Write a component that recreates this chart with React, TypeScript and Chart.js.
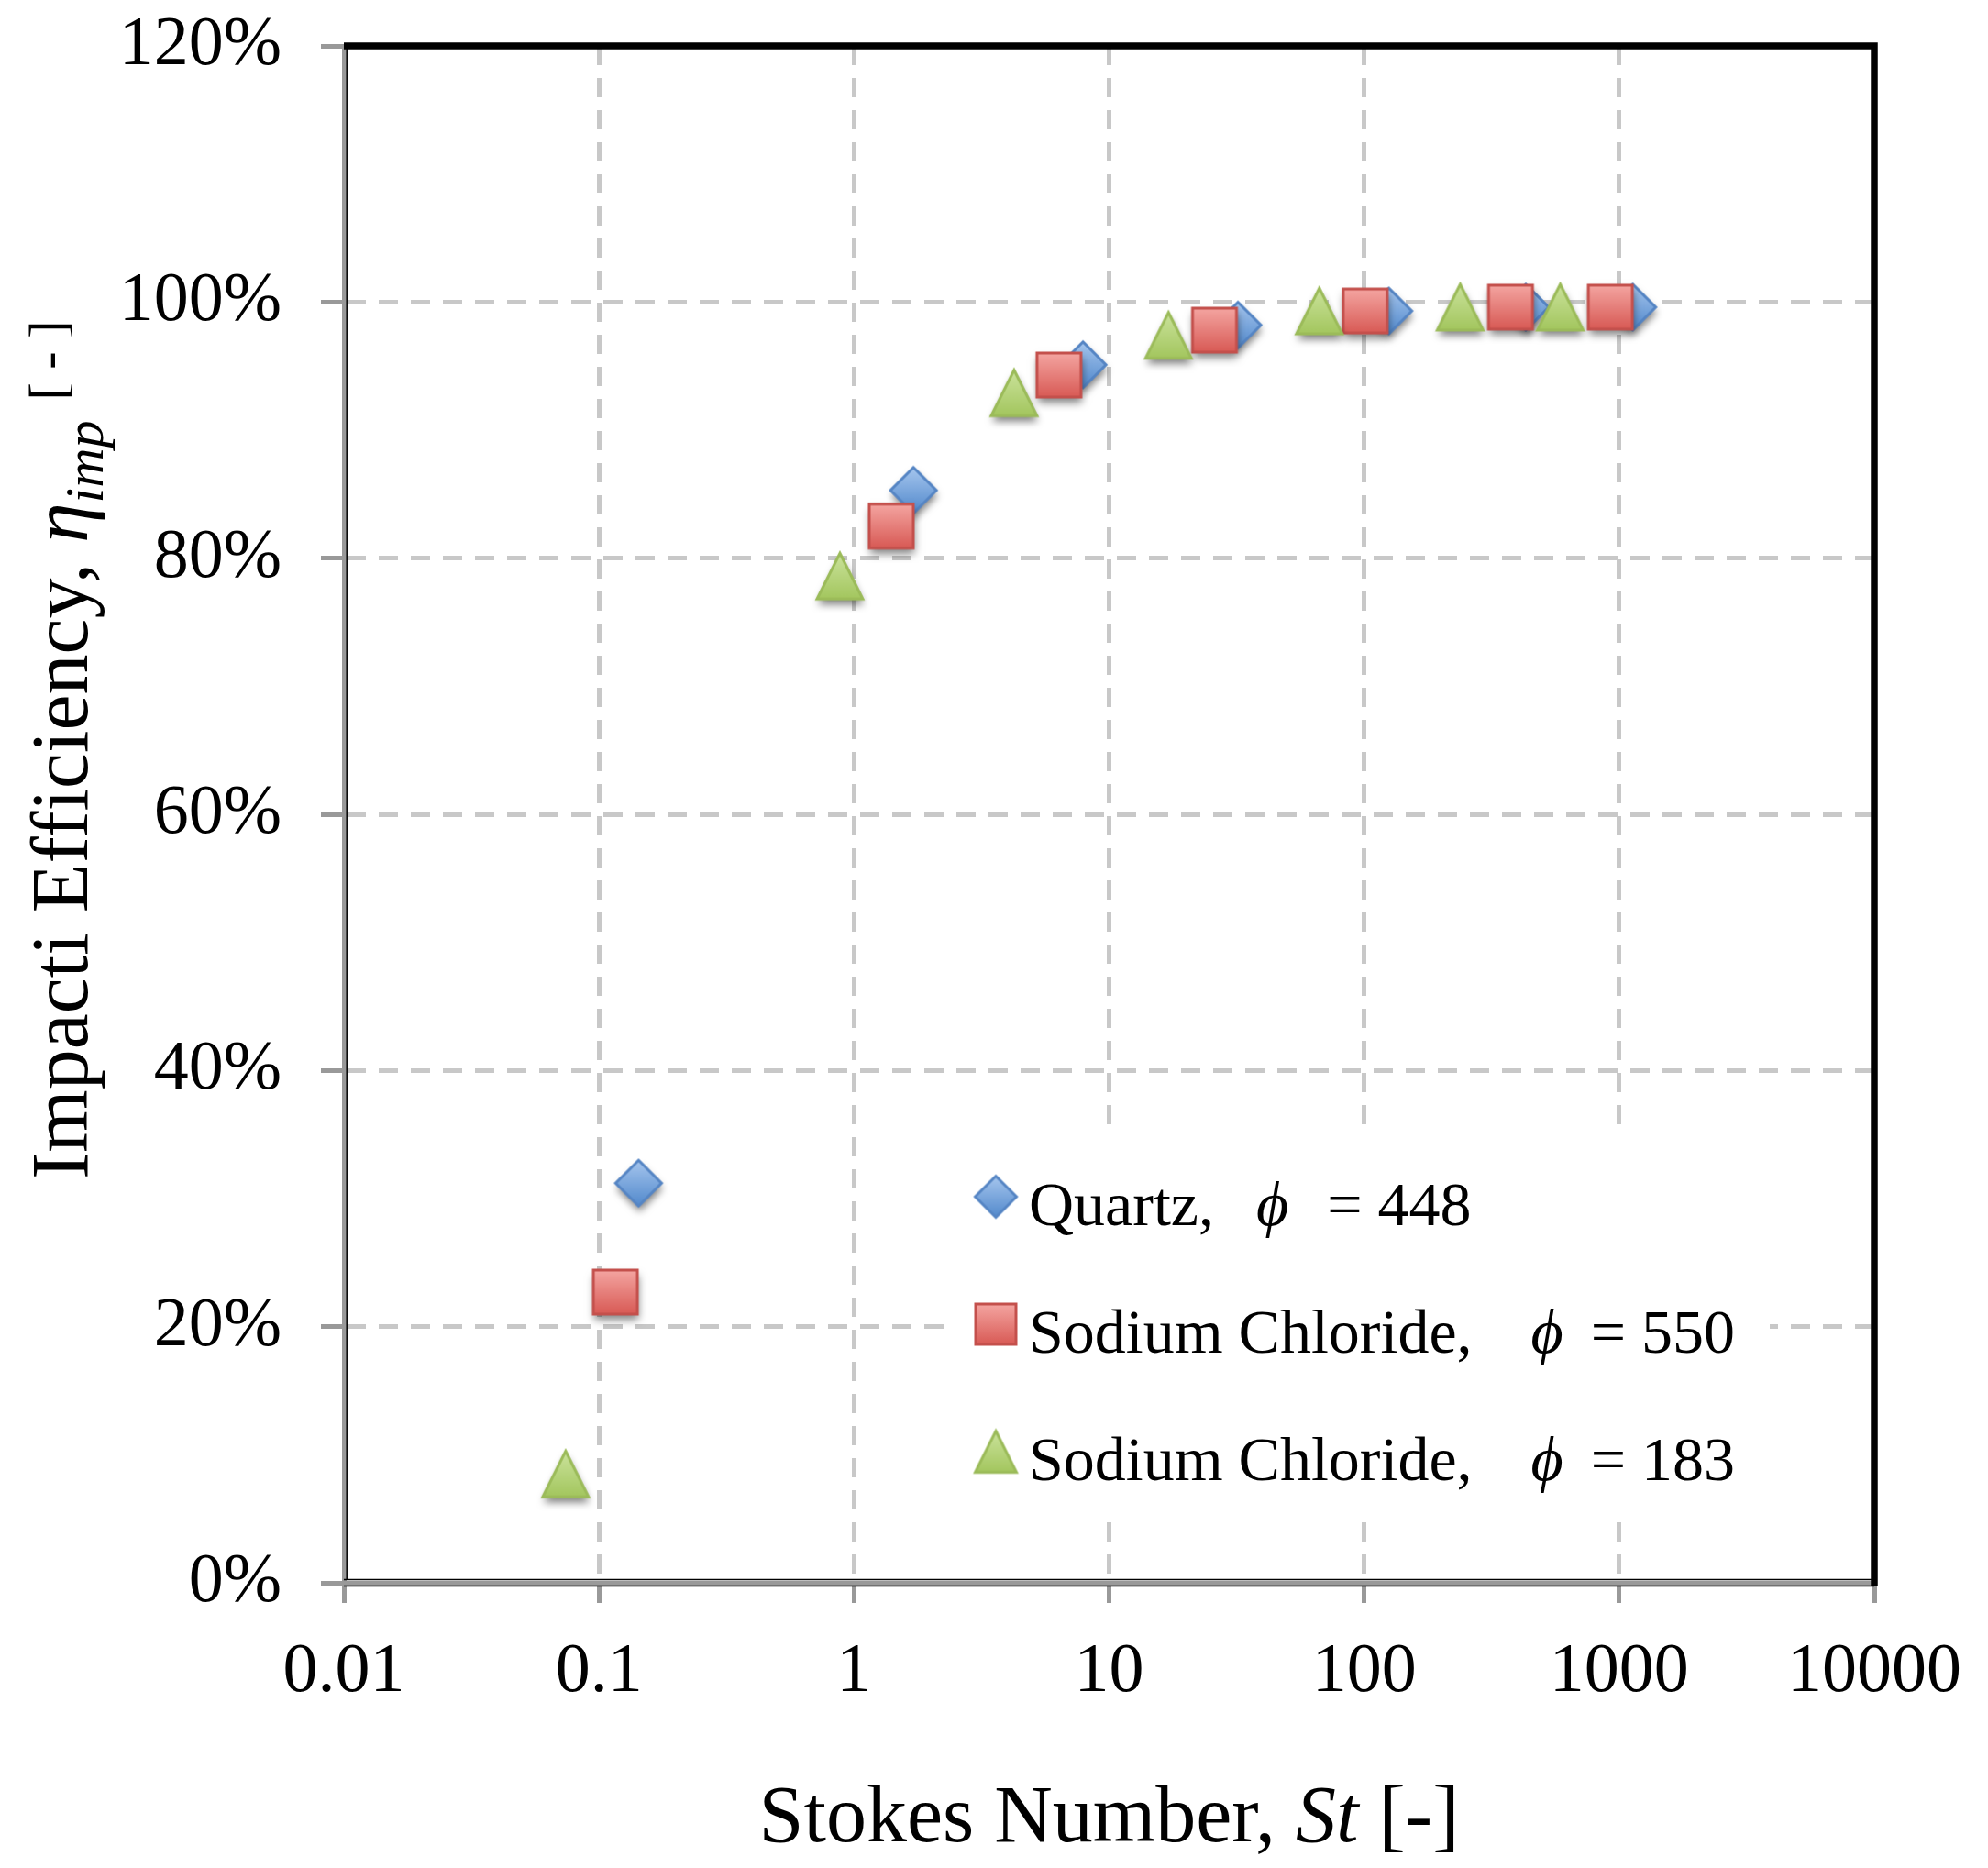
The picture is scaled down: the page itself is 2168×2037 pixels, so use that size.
import React, { useEffect, useRef } from 'react';
import { Chart, registerables } from 'chart.js';

Chart.register(...registerables);

// Stokes number (x) and impaction efficiency in % (y)
const quartzSt = [0.143, 1.71, 7.9, 32, 125, 430, 1130];
const quartzEff = [31.2, 85.3, 95.1, 98.2, 99.3, 99.6, 99.6];
const nacl550St = [0.116, 1.4, 6.36, 25.9, 101, 375, 923];
const nacl550Eff = [22.7, 82.5, 94.3, 97.8, 99.3, 99.6, 99.6];
const nacl183St = [0.074, 0.88, 4.24, 17.1, 66.7, 238, 587];
const nacl183Eff = [8.5, 78.6, 92.9, 97.4, 99.3, 99.6, 99.6];

const xTicks = [0.01, 0.1, 1, 10, 100, 1000, 10000];
const yTicks = [0, 20, 40, 60, 80, 100, 120];

const legendNames = ['Quartz,', 'Sodium Chloride,', 'Sodium Chloride,'];
const legendPhi = ['448', '550', '183'];

const SERIF = '"Liberation Serif", "Times New Roman", Times, serif';

type Shape = 'diamond' | 'square' | 'triangle';

const makeMarker = (shape: Shape, size: number, top: string, bottom: string, stroke: string, shadow = true) => {
  const pad = 16;
  const c = document.createElement('canvas');
  c.width = size + pad * 2;
  c.height = size + pad * 2;
  const ctx = c.getContext('2d')!;
  const cx = c.width / 2;
  const cy = c.height / 2;
  const h = size / 2;
  const path = () => {
    ctx.beginPath();
    if (shape === 'diamond') {
      ctx.moveTo(cx, cy - h);
      ctx.lineTo(cx + h, cy);
      ctx.lineTo(cx, cy + h);
      ctx.lineTo(cx - h, cy);
    } else if (shape === 'square') {
      ctx.rect(cx - h, cy - h, size, size);
    } else {
      ctx.moveTo(cx, cy - h);
      ctx.lineTo(cx + h, cy + h);
      ctx.lineTo(cx - h, cy + h);
    }
    ctx.closePath();
  };
  if (shadow) {
    ctx.save();
    ctx.shadowColor = 'rgba(0,0,0,0.5)';
    ctx.shadowBlur = 9;
    ctx.shadowOffsetY = 6;
    ctx.shadowOffsetX = 1;
    path();
    ctx.fillStyle = bottom;
    ctx.fill();
    ctx.restore();
  }
  const g = ctx.createLinearGradient(0, cy - h, 0, cy + h);
  g.addColorStop(0, top);
  g.addColorStop(1, bottom);
  path();
  ctx.fillStyle = g;
  ctx.fill();
  ctx.lineWidth = 3;
  ctx.lineJoin = 'miter';
  ctx.strokeStyle = stroke;
  ctx.stroke();
  return c;
};

type Run = { text: string; size: number; italic?: boolean; dy?: number };

const drawRuns = (ctx: CanvasRenderingContext2D, runs: Run[], x: number, y: number) => {
  let cx = x;
  runs.forEach((r) => {
    ctx.font = `${r.italic ? 'italic ' : ''}${r.size}px ${SERIF}`;
    ctx.fillText(r.text, cx, y + (r.dy || 0));
    cx += ctx.measureText(r.text).width;
  });
};

const runsWidth = (ctx: CanvasRenderingContext2D, runs: Run[]) => {
  let w = 0;
  runs.forEach((r) => {
    ctx.font = `${r.italic ? 'italic ' : ''}${r.size}px ${SERIF}`;
    w += ctx.measureText(r.text).width;
  });
  return w;
};

const ImpactionChart: React.FC = () => {
  const canvasRef = useRef<HTMLCanvasElement>(null);
  const chartRef = useRef<Chart | null>(null);

  useEffect(() => {
    document.body.style.margin = '0';
    document.body.style.overflow = 'hidden';
    if (!canvasRef.current) return;
    if (chartRef.current) chartRef.current.destroy();

    const blue = makeMarker('diamond', 50, '#a6c6ee', '#5289cc', '#5585c4');
    const red = makeMarker('square', 48, '#f4a5a1', '#d85a55', '#c4504c');
    const green = makeMarker('triangle', 50, '#cbe39c', '#a3c65e', '#9bbb59');
    const legendMarkers = [
      makeMarker('diamond', 45, '#a6c6ee', '#5289cc', '#5585c4', false),
      makeMarker('square', 44, '#f4a5a1', '#d85a55', '#c4504c', false),
      makeMarker('triangle', 45, '#cbe39c', '#a3c65e', '#9bbb59', false),
    ];

    const decor = {
      id: 'decor',
      afterDraw(chart: Chart) {
        const { ctx, chartArea: a } = chart;
        ctx.save();
        // axis edge lines
        ctx.strokeStyle = '#000';
        ctx.lineWidth = 1.5;
        ctx.beginPath();
        ctx.moveTo(a.left, a.bottom - 3.5);
        ctx.lineTo(a.right, a.bottom - 3.5);
        ctx.moveTo(a.left, a.bottom + 3.5);
        ctx.lineTo(a.right, a.bottom + 3.5);
        ctx.moveTo(a.left + 3.2, a.top);
        ctx.lineTo(a.left + 3.2, a.bottom - 3);
        ctx.stroke();
        // top & right frame
        ctx.lineWidth = 7.5;
        ctx.beginPath();
        ctx.moveTo(a.left, a.top);
        ctx.lineTo(a.right, a.top);
        ctx.lineTo(a.right, a.bottom + 4);
        ctx.stroke();

        ctx.fillStyle = '#000';
        ctx.textBaseline = 'alphabetic';
        ctx.textAlign = 'left';

        // x title
        const xRuns: Run[] = [
          { text: 'Stokes Number, ', size: 88 },
          { text: 'St', size: 88, italic: true },
          { text: ' [-]', size: 88 },
        ];
        const xw = runsWidth(ctx, xRuns);
        drawRuns(ctx, xRuns, (a.left + a.right) / 2 - xw / 2, a.bottom + 282);

        // y title
        ctx.save();
        ctx.translate(a.left - 280, a.bottom - 440);
        ctx.rotate(-Math.PI / 2);
        drawRuns(ctx, [
          { text: 'Impacti Efficiency, ', size: 88 },
          { text: 'η', size: 88, italic: true },
          { text: 'imp', size: 60, italic: true, dy: 17 },
          { text: '  ', size: 44 },
          { text: '[ - ]', size: 58, dy: -24 },
        ], 0, 0);
        ctx.restore();

        // legend
        const lx = a.left + 665;
        const ly = a.top + 1190;
        ctx.fillStyle = '#fff';
        ctx.fillRect(lx, ly, 890, 405);
        const rowY = [a.top + 1255, a.top + 1394, a.top + 1533];
        const phiGap = [46, 64, 64];
        const eqGap = [42, 30, 30];
        legendNames.forEach((name, i) => {
          const m = legendMarkers[i];
          ctx.drawImage(m, a.left + 711 - m.width / 2, rowY[i] - m.height / 2);
          ctx.fillStyle = '#000';
          const textY = rowY[i] + 31;
          drawRuns(ctx, [{ text: name, size: 68 }], a.left + 747, textY);
          ctx.font = `68px ${SERIF}`;
          let x = a.left + 747 + ctx.measureText(name).width + phiGap[i];
          drawRuns(ctx, [{ text: 'ϕ', size: 68, italic: true }], x, textY);
          ctx.font = `italic 68px ${SERIF}`;
          x += ctx.measureText('ϕ').width + eqGap[i];
          drawRuns(ctx, [{ text: '= ' + legendPhi[i], size: 68 }], x, textY);
        });
        ctx.restore();
      },
    };

    const toPoints = (xs: number[], ys: number[]) => xs.map((x, i) => ({ x, y: ys[i] }));
    const tickFont = { family: SERIF, size: 76 };

    chartRef.current = new Chart(canvasRef.current, {
      type: 'scatter',
      data: {
        datasets: [
          { label: 'Quartz', data: toPoints(quartzSt, quartzEff), pointStyle: blue, pointRadius: 25, order: 3 },
          { label: 'Sodium Chloride 550', data: toPoints(nacl550St, nacl550Eff), pointStyle: red, pointRadius: 25, order: 2 },
          { label: 'Sodium Chloride 183', data: toPoints(nacl183St, nacl183Eff), pointStyle: green, pointRadius: 25, order: 1 },
        ],
      },
      options: {
        responsive: false,
        animation: false,
        devicePixelRatio: 1,
        layout: { padding: { left: 0, top: 50, right: 124, bottom: 0 } },
        plugins: { legend: { display: false }, tooltip: { enabled: false } },
        scales: {
          x: {
            type: 'logarithmic',
            min: 0.01,
            max: 10000,
            afterBuildTicks: (scale: any) => {
              scale.ticks = xTicks.map((v) => ({ value: v }));
            },
            afterFit: (scale: any) => {
              scale.height = 311;
              scale.paddingLeft = 0;
              scale.paddingRight = 0;
            },
            ticks: {
              autoSkip: false,
              maxRotation: 0,
              padding: 30,
              color: '#000',
              font: tickFont,
              callback: (v: any) => String(v),
            },
            grid: {
              color: '#c8c8c8',
              lineWidth: 5,
              tickLength: 22,
              tickColor: '#999',
              tickWidth: 5,
              tickBorderDash: [],
            },
            border: { display: true, color: '#999', width: 5, dash: [21, 14] },
          },
          y: {
            type: 'linear',
            min: 0,
            max: 120,
            afterBuildTicks: (scale: any) => {
              scale.ticks = yTicks.map((v) => ({ value: v }));
            },
            afterFit: (scale: any) => {
              scale.width = 375;
              scale.paddingTop = 0;
              scale.paddingBottom = 0;
            },
            ticks: {
              padding: 43,
              color: '#000',
              font: tickFont,
              callback: (v: any) => `${v}%`,
            },
            grid: {
              color: '#c8c8c8',
              lineWidth: 5,
              tickLength: 25,
              tickColor: '#999',
              tickWidth: 5,
              tickBorderDash: [],
            },
            border: { display: true, color: '#999', width: 5, dash: [21, 14] },
          },
        },
      },
      plugins: [decor],
    } as any);

    return () => {
      if (chartRef.current) {
        chartRef.current.destroy();
        chartRef.current = null;
      }
    };
  }, []);

  return (
    <div style={{ width: 2168, height: 2037, background: '#fff' }}>
      <canvas ref={canvasRef} width={2168} height={2037} />
    </div>
  );
};

export default function App() {
  return <ImpactionChart />;
}
